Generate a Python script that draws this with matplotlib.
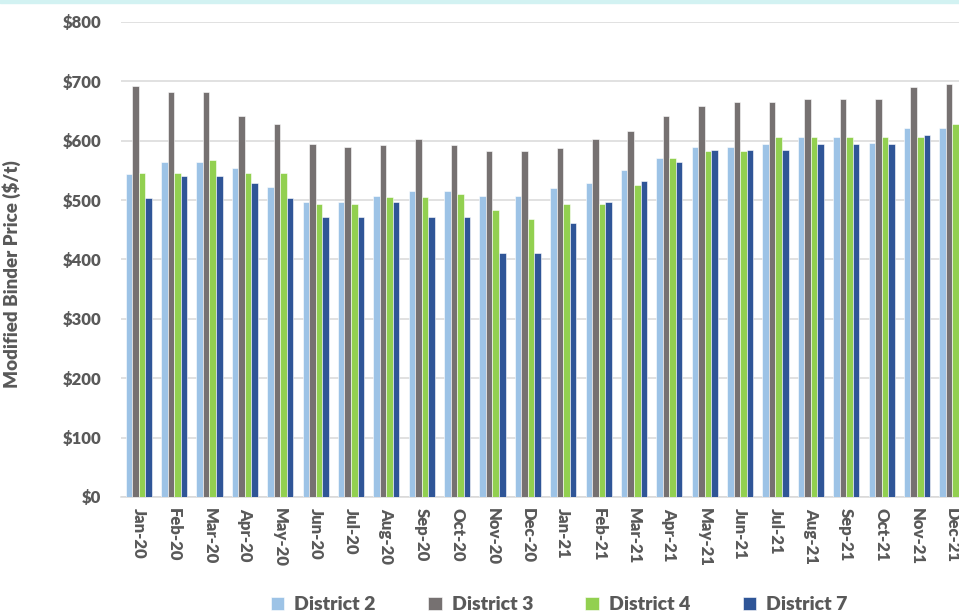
import numpy as np
import matplotlib
matplotlib.use("Agg")
import matplotlib.pyplot as plt
from matplotlib.patches import Rectangle

plt.rcParams['font.family'] = ['Lato', 'DejaVu Sans']
plt.rcParams['font.weight'] = 'heavy'

# Monthly modified binder prices ($/t) by district
months = ['Jan-20', 'Feb-20', 'Mar-20', 'Apr-20', 'May-20', 'Jun-20',
          'Jul-20', 'Aug-20', 'Sep-20', 'Oct-20', 'Nov-20', 'Dec-20',
          'Jan-21', 'Feb-21', 'Mar-21', 'Apr-21', 'May-21', 'Jun-21',
          'Jul-21', 'Aug-21', 'Sep-21', 'Oct-21', 'Nov-21', 'Dec-21']
district_2 = [544, 565, 565, 554, 522, 497, 497, 507, 516, 516, 507, 507,
              520, 529, 550, 571, 590, 590, 595, 607, 607, 597, 622, 622]
district_3 = [693, 682, 682, 641, 629, 595, 589, 593, 603, 593, 582, 582,
              588, 603, 616, 641, 659, 665, 665, 671, 671, 671, 691, 695]
district_4 = [545, 545, 567, 545, 545, 494, 494, 505, 505, 510, 484, 469,
              494, 494, 526, 571, 582, 582, 607, 607, 607, 607, 607, 628]
district_7 = [503, 540, 540, 528, 503, 471, 471, 497, 471, 471, 411, 411,
              462, 497, 533, 565, 584, 584, 584, 595, 595, 595, 609, 609]

series = [
    ('District 2', district_2, '#9DC3E6'),
    ('District 3', district_3, '#767171'),
    ('District 4', district_4, '#92D050'),
    ('District 7', district_7, '#2F5597'),
]

text_color = '#595959'
grid_color = '#D9D9D9'

fig = plt.figure(figsize=(9.59, 6.14), dpi=100)
ax = fig.add_axes([0.1262, 0.1906, 0.8853, 0.7736])

# thin banner strip along the top edge
fig.patches.append(Rectangle((0, 0.995), 1, 0.005, transform=fig.transFigure,
                             color='#D2F2F2', zorder=0))

x = np.arange(len(months))
w = 0.185
handles = []
for i, (name, vals, color) in enumerate(series):
    b = ax.bar(x + (i - 1.5) * w, vals, width=w, color=color,
               edgecolor='white', linewidth=0.4, label=name, zorder=3)
    handles.append(b)

ax.set_xlim(-0.5, len(months) - 0.5)
ax.set_ylim(0, 800)
ax.set_yticks(range(0, 801, 100))
ax.set_yticklabels([f'${v}' for v in range(0, 801, 100)])
ax.set_xticks(x)
ax.set_xticklabels(months, rotation=270)

ax.grid(axis='y', color=grid_color, linewidth=1.1, zorder=0)
for side in ['top', 'right', 'left']:
    ax.spines[side].set_visible(False)
ax.spines['bottom'].set_color(grid_color)
ax.spines['bottom'].set_linewidth(1.1)

ax.tick_params(axis='y', length=0, pad=14, labelsize=12, labelcolor=text_color)
ax.tick_params(axis='x', length=0, pad=8, labelsize=12, labelcolor=text_color)

ax.set_ylabel('Modified Binder Price ($/t)', fontsize=13.5, color=text_color,
              fontweight='heavy')
ax.yaxis.set_label_coords(-0.118, 0.47)

fig.legend(handles=handles, loc='center', bbox_to_anchor=(0.583, 0.015),
           ncol=4, frameon=False, fontsize=14, labelcolor=text_color,
           handlelength=0.7, handleheight=0.7, handletextpad=0.5,
           columnspacing=2.7)

fig.savefig('out.png', dpi=100)
